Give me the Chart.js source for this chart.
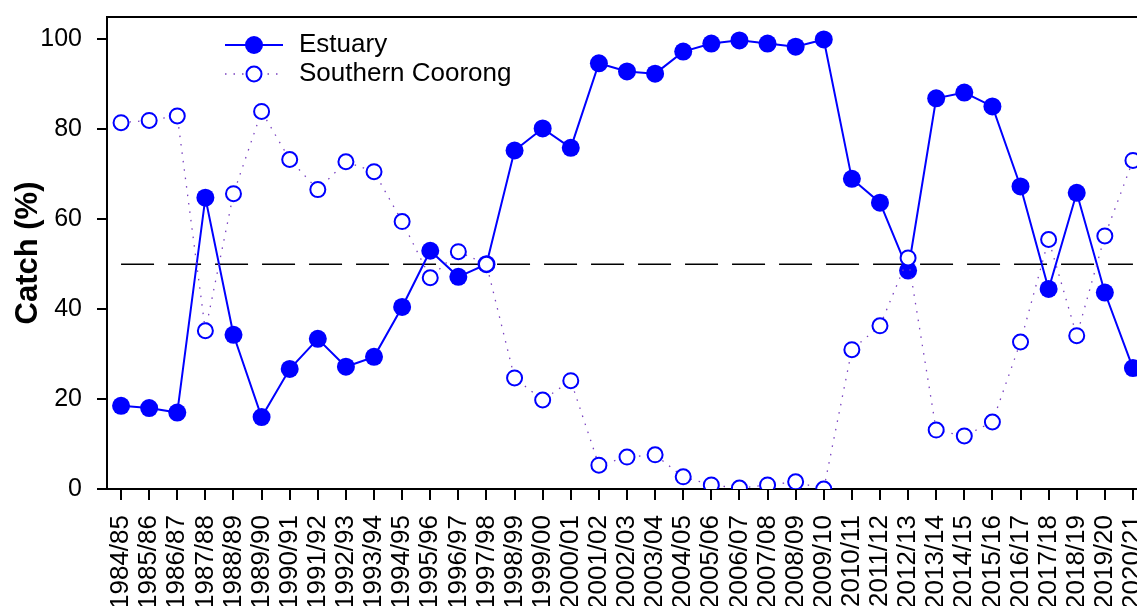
<!DOCTYPE html>
<html>
<head>
<meta charset="utf-8">
<title>Catch share by season</title>
<script src="https://cdn.jsdelivr.net/npm/chart.js@4.4.1/dist/chart.umd.min.js"></script>
<style>
  html, body { margin: 0; padding: 0; background: #fff; overflow: hidden; width: 1137px; height: 606px; }
  canvas { display: block; }
</style>
</head>
<body>
<canvas id="catchChart" width="1160" height="606"></canvas>
<script>
// Fishing seasons
const seasons = [
  '1984/85', '1985/86', '1986/87', '1987/88', '1988/89', '1989/90', '1990/91',
  '1991/92', '1992/93', '1993/94', '1994/95', '1995/96', '1996/97', '1997/98',
  '1998/99', '1999/00', '2000/01', '2001/02', '2002/03', '2003/04', '2004/05',
  '2005/06', '2006/07', '2007/08', '2008/09', '2009/10', '2010/11', '2011/12',
  '2012/13', '2013/14', '2014/15', '2015/16', '2016/17', '2017/18', '2018/19',
  '2019/20', '2020/21'
];

// Share of total catch taken in each region (%)
const estuary = [
  18.5, 18.0, 17.0, 64.8, 34.3, 16.0, 26.7,
  33.4, 27.2, 29.4, 40.5, 53.0, 47.2, 50.0,
  75.3, 80.2, 75.9, 94.7, 92.9, 92.4, 97.3,
  99.1, 99.8, 99.1, 98.4, 100.0, 69.0, 63.7,
  48.6, 86.9, 88.2, 85.1, 67.3, 44.5, 65.9,
  43.7, 26.9
];
const southernCoorong = [
  81.5, 82.0, 83.0, 35.2, 65.7, 84.0, 73.3,
  66.6, 72.8, 70.6, 59.5, 47.0, 52.8, 50.0,
  24.7, 19.8, 24.1, 5.3, 7.1, 7.6, 2.7,
  0.9, 0.2, 0.9, 1.6, 0.0, 31.0, 36.3,
  51.4, 13.1, 11.8, 14.9, 32.7, 55.5, 34.1,
  56.3, 73.1
];

// Even-split reference level (%)
const referenceLevel = 50;

// Value axis
const yTicks = [0, 20, 40, 60, 80, 100];
const yMin = 0;
const yMax = 105;

const FONT = '"Liberation Sans", Arial, Helvetica, sans-serif';
Chart.defaults.font.family = FONT;
Chart.defaults.color = '#000';

// Legend in base-graphics style: line segment with the marker in its middle
const sampleLegend = {
  id: 'sampleLegend',
  afterDraw(chart) {
    const { ctx, chartArea } = chart;
    const entries = chart.data.datasets
      .filter(ds => ds.inLegend)
      .sort((a, b) => a.legendRank - b.legendRank);
    const x0 = chartArea.left + 118, x1 = chartArea.left + 176;
    const xm = (x0 + x1) / 2;
    const xt = chartArea.left + 192;
    entries.forEach((ds, k) => {
      const y = chartArea.top + 28 + k * 29;
      ctx.save();
      ctx.strokeStyle = ds.borderColor;
      ctx.lineWidth = ds.borderWidth;
      ctx.setLineDash(ds.borderDash || []);
      ctx.beginPath();
      ctx.moveTo(x0, y);
      ctx.lineTo(x1, y);
      ctx.stroke();
      ctx.setLineDash([]);
      ctx.beginPath();
      ctx.arc(xm, y, ds.pointRadius, 0, Math.PI * 2);
      ctx.fillStyle = ds.pointBackgroundColor;
      ctx.fill();
      if (ds.pointBorderWidth > 0) {
        ctx.lineWidth = ds.pointBorderWidth;
        ctx.strokeStyle = ds.pointBorderColor;
        ctx.stroke();
      }
      ctx.fillStyle = '#000';
      ctx.font = '26px ' + FONT;
      ctx.textBaseline = 'middle';
      ctx.textAlign = 'left';
      ctx.fillText(ds.label, xt, y);
      ctx.restore();
    });
  }
};

const axisGrid = {
  drawOnChartArea: false,
  drawTicks: true,
  tickLength: 10,
  lineWidth: 2,
  color: '#000'
};

// Fixed axis boxes, no extra room reserved for overhanging labels
function noOverhang(scale) {
  scale.paddingTop = 0;
  scale.paddingBottom = 0;
  scale.paddingLeft = 0;
  scale.paddingRight = 0;
}

new Chart(document.getElementById('catchChart'), {
  type: 'line',
  data: {
    labels: seasons,
    datasets: [
      {
        label: 'Southern Coorong',
        data: southernCoorong,
        inLegend: true,
        legendRank: 1,
        order: 0,
        borderColor: '#7a42c0',
        borderWidth: 1.3,
        borderDash: [1.5, 7],
        pointRadius: 7.5,
        pointBorderWidth: 2,
        pointBorderColor: '#0000ff',
        pointBackgroundColor: '#ffffff',
        tension: 0,
        fill: false
      },
      {
        label: 'Estuary',
        data: estuary,
        inLegend: true,
        legendRank: 0,
        order: 1,
        borderColor: '#0000ff',
        borderWidth: 2,
        pointRadius: 9,
        pointBorderWidth: 0,
        pointBorderColor: '#0000ff',
        pointBackgroundColor: '#0000ff',
        tension: 0,
        fill: false
      },
      {
        label: 'Reference',
        data: seasons.map(() => referenceLevel),
        inLegend: false,
        order: 2,
        borderColor: '#000000',
        borderWidth: 1.7,
        borderDash: [33, 14],
        pointRadius: 0,
        tension: 0,
        fill: false
      }
    ]
  },
  options: {
    responsive: false,
    animation: false,
    devicePixelRatio: 1,
    events: [],
    layout: { padding: { top: 17, right: 13, left: 0, bottom: 0 } },
    plugins: {
      legend: { display: false },
      tooltip: { enabled: false }
    },
    scales: {
      x: {
        type: 'category',
        position: 'bottom',
        offset: true,
        grid: Object.assign({}, axisGrid, { offset: false, tickLength: 11 }),
        border: { display: true, color: '#000', width: 2 },
        ticks: {
          autoSkip: false,
          minRotation: 90,
          maxRotation: 90,
          padding: 15,
          font: { size: 26 }
        },
        afterFit(scale) { scale.height = 117; noOverhang(scale); }
      },
      frameTop: {
        type: 'category',
        axis: 'x',
        position: 'top',
        offset: true,
        grid: { display: false },
        ticks: { display: false },
        border: { display: true, color: '#000', width: 2 },
        afterFit(scale) { scale.height = 0; noOverhang(scale); }
      },
      y: {
        type: 'linear',
        position: 'left',
        min: yMin,
        max: yMax,
        afterBuildTicks(scale) { scale.ticks = yTicks.map(v => ({ value: v })); },
        grid: axisGrid,
        border: { display: true, color: '#000', width: 2 },
        ticks: { padding: 15, font: { size: 25 } },
        title: {
          display: true,
          text: 'Catch (%)',
          font: { size: 31, weight: 'bold' },
          padding: { top: 10, bottom: 0 }
        },
        afterFit(scale) { scale.width = 107; noOverhang(scale); }
      }
    }
  },
  plugins: [sampleLegend]
});
</script>
</body>
</html>
